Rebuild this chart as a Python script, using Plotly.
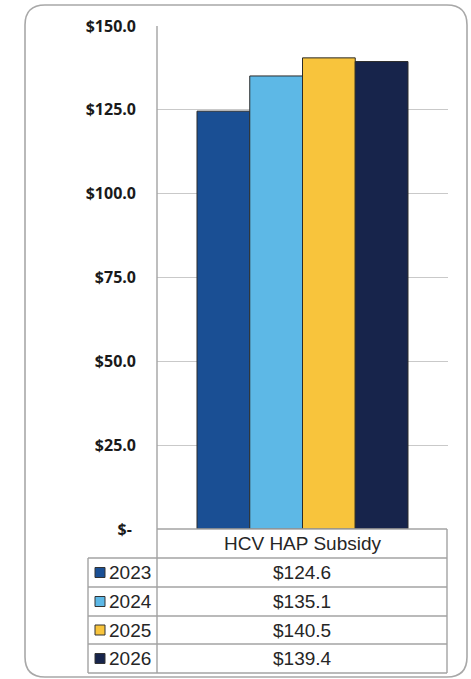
import plotly.graph_objects as go

# ---- data ----
category = "HCV HAP Subsidy"
years = ["2023", "2024", "2025", "2026"]
values = [124.6, 135.1, 140.5, 139.4]
colors = ["#1A4F94", "#5DB8E6", "#F8C43C", "#17244B"]
tick_vals = [0, 25, 50, 75, 100, 125, 150]
tick_text = ["$-\u00a0", "$25.0", "$50.0", "$75.0", "$100.0", "$125.0", "$150.0"]

W, H = 471, 679


def px(x):
    return x / W


def py(y):
    return 1 - y / H


# plot area in pixels
PL, PR, PT, PB = 157, 448, 26, 529
# table geometry in pixels
TL, TD, TR = 88, 157, 447
row_lines = [529, 558, 587, 616, 644, 673]

fig = go.Figure()
for yr, v, c in zip(years, values, colors):
    fig.add_trace(go.Bar(
        x=[category], y=[v], name=yr,
        marker=dict(color=c, line=dict(color="#2b2b2b", width=1)),
        showlegend=False, hoverinfo="skip",
    ))

fig.update_layout(
    width=W, height=H,
    margin=dict(l=0, r=0, t=0, b=0, pad=0, autoexpand=False),
    paper_bgcolor="white", plot_bgcolor="white",
    barmode="group", bargap=0.275, bargroupgap=0,
    xaxis=dict(domain=[px(PL), px(PR)], showticklabels=False, showgrid=False,
               zeroline=False, showline=False, ticks="", automargin=False),
    yaxis=dict(domain=[py(PB), py(PT)], range=[0, 150], tickvals=tick_vals,
               ticktext=tick_text, showgrid=True, gridcolor="#c9c9c9", gridwidth=1,
               zeroline=False, showline=False, ticks="", ticklabelstandoff=20,
               automargin=False,
               tickfont=dict(family="Open Sans", size=16, color="#1a1a1a",
                             weight="bold")),
)

shapes = []
line_style = dict(color="#a3a3a3", width=1.4)

# rounded outer frame
x0, y0, x1, y1, r = 25, 5, 467, 677, 20
pts = [
    ("M", (x0 + r, y0)), ("L", (x1 - r, y0)), ("Q", (x1, y0), (x1, y0 + r)),
    ("L", (x1, y1 - r)), ("Q", (x1, y1), (x1 - r, y1)),
    ("L", (x0 + r, y1)), ("Q", (x0, y1), (x0, y1 - r)),
    ("L", (x0, y0 + r)), ("Q", (x0, y0), (x0 + r, y0)),
]
path = ""
for seg in pts:
    cmd, *coords = seg
    path += cmd + " ".join(f"{px(a):.5f},{py(b):.5f}" for a, b in coords) + " "
path += "Z"
shapes.append(dict(type="path", path=path, xref="paper", yref="paper",
                   line=dict(color="#a8a8a8", width=1.6), layer="below"))

# table horizontal lines
shapes.append(dict(type="line", xref="paper", yref="paper",
                   x0=px(TD), x1=px(TR), y0=py(row_lines[0]), y1=py(row_lines[0]),
                   line=line_style))
for yl in row_lines[1:]:
    shapes.append(dict(type="line", xref="paper", yref="paper",
                       x0=px(TL), x1=px(TR), y0=py(yl), y1=py(yl), line=line_style))
# table vertical lines
shapes.append(dict(type="line", xref="paper", yref="paper",
                   x0=px(TL), x1=px(TL), y0=py(row_lines[1]), y1=py(row_lines[-1]),
                   line=line_style))
shapes.append(dict(type="line", xref="paper", yref="paper",
                   x0=px(TD), x1=px(TD), y0=py(PT), y1=py(row_lines[-1]),
                   line=line_style))
shapes.append(dict(type="line", xref="paper", yref="paper",
                   x0=px(TR), x1=px(TR), y0=py(row_lines[0]), y1=py(row_lines[-1]),
                   line=line_style))

annotations = []
table_font = dict(family="Liberation Sans", size=19, color="#262626")
annotations.append(dict(text=category, xref="paper", yref="paper",
                        x=px((TD + TR) / 2), y=py((row_lines[0] + row_lines[1]) / 2),
                        xanchor="center", yanchor="middle", showarrow=False,
                        font=table_font))

for i, (yr, v, c) in enumerate(zip(years, values, colors)):
    top, bot = row_lines[i + 1], row_lines[i + 2]
    cy = (top + bot) / 2
    # legend key
    shapes.append(dict(type="rect", xref="paper", yref="paper",
                       x0=px(95), x1=px(105), y0=py(cy - 5), y1=py(cy + 5),
                       fillcolor=c, line=dict(color="#333333", width=1)))
    annotations.append(dict(text=yr, xref="paper", yref="paper",
                            x=px(107), y=py(cy), xanchor="left", yanchor="middle",
                            showarrow=False, font=table_font))
    annotations.append(dict(text=f"${v:.1f}", xref="paper", yref="paper",
                            x=px((TD + TR) / 2), y=py(cy), xanchor="center",
                            yanchor="middle", showarrow=False, font=table_font))

fig.update_layout(shapes=shapes, annotations=annotations)
fig.write_html("out.html")
